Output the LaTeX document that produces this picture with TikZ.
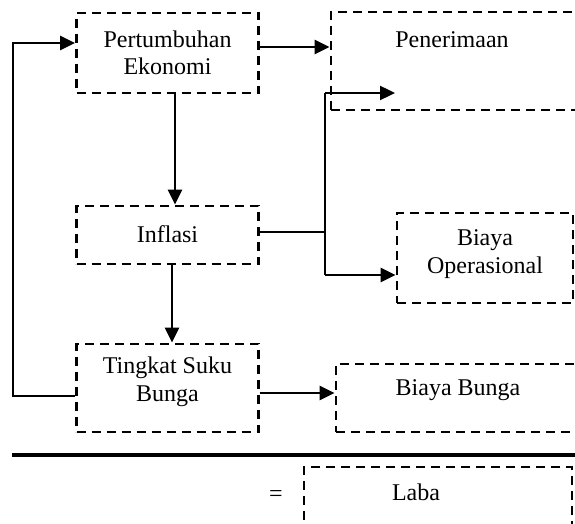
\documentclass[tikz,border=0pt]{standalone}
\usepackage{fontspec}
\setmainfont{Liberation Serif}
\usetikzlibrary{arrows.meta}
\begin{document}
\begin{tikzpicture}[x=1pt,y=-1pt,
  box/.style={draw, line width=2.8pt, dash pattern=on 9pt off 6pt, minimum width=#1, inner sep=0pt},
  txt/.style={font=\fontsize{24}{27.5}\selectfont, align=center, inner sep=0pt},
  arr/.style={line width=2.4pt, -{Triangle[length=15pt,width=14pt]}},
  ln/.style={line width=1.8pt}]
\useasboundingbox (0,0) rectangle (575,524);
\clip (0,0) rectangle (575,524);
% boxes
\node[box=182pt, minimum height=80pt] (pert) at (167.5,53) {};
\node[txt] (pertt) at (167.5,53) {Pertumbuhan\\Ekonomi};
\node[box=259pt, minimum height=98pt] (pen) at (460.5,61) {};
\node[txt] (pent) at (452,40) {Penerimaan};
\node[box=182pt, minimum height=58pt] (infl) at (167.5,235) {};
\node[txt] (inflt) at (167.5,234) {Inflasi};
\node[box=176pt, minimum height=90pt] (bo) at (485,258) {};
\node[txt] (bot) at (485,254) {Biaya\\Operasional};
\node[box=182pt, minimum height=88pt] (ting) at (167.5,388) {};
\node[txt] (tingt) at (167.5,382) {Tingkat Suku\\Bunga};
\node[box=250pt, minimum height=68pt] (bb) at (461,398) {};
\node[txt] (bbt) at (458,390) {Biaya Bunga};
\node[box=268pt, minimum height=80pt] (laba) at (438,507) {};
\node[txt] (labat) at (416,492) {Laba};
\node[txt] (eq) at (276,496) {=};
% connectors
\draw[arr] ([yshift=6pt]pert.east) coordinate (a1) -- (a1 -| pen.west);
\draw[arr] ([xshift=7.5pt]pert.south) coordinate (a2) -- (a2 |- infl.north);
\draw[arr] ([xshift=4.5pt]infl.south) coordinate (a3) -- (a3 |- ting.north);
\draw[arr] ([yshift=-5pt]ting.east) coordinate (a4) -- (a4 -| bb.west);
\coordinate (j) at (325,232);
\coordinate (jt) at (325,93);
\coordinate (jb) at (325,275);
\coordinate (tipt) at (395,93);
\coordinate (fb1) at (13,396);
\coordinate (fb2) at (13,43);
\draw[ln] (infl.east |- j) -- (j);
\draw[ln] (jt) -- (jb);
\draw[arr] (jt) -- (tipt);
\draw[arr] (jb) -- (jb -| bo.west);
\draw[arr] (ting.west |- fb1) -- (fb1) -- (fb2) -- (fb2 -| pert.west);
% rule
\coordinate (r1) at (12,455);
\coordinate (r2) at (575,455);
\draw[line width=4.5pt] (r1) -- (r2);
\end{tikzpicture}
\end{document}
